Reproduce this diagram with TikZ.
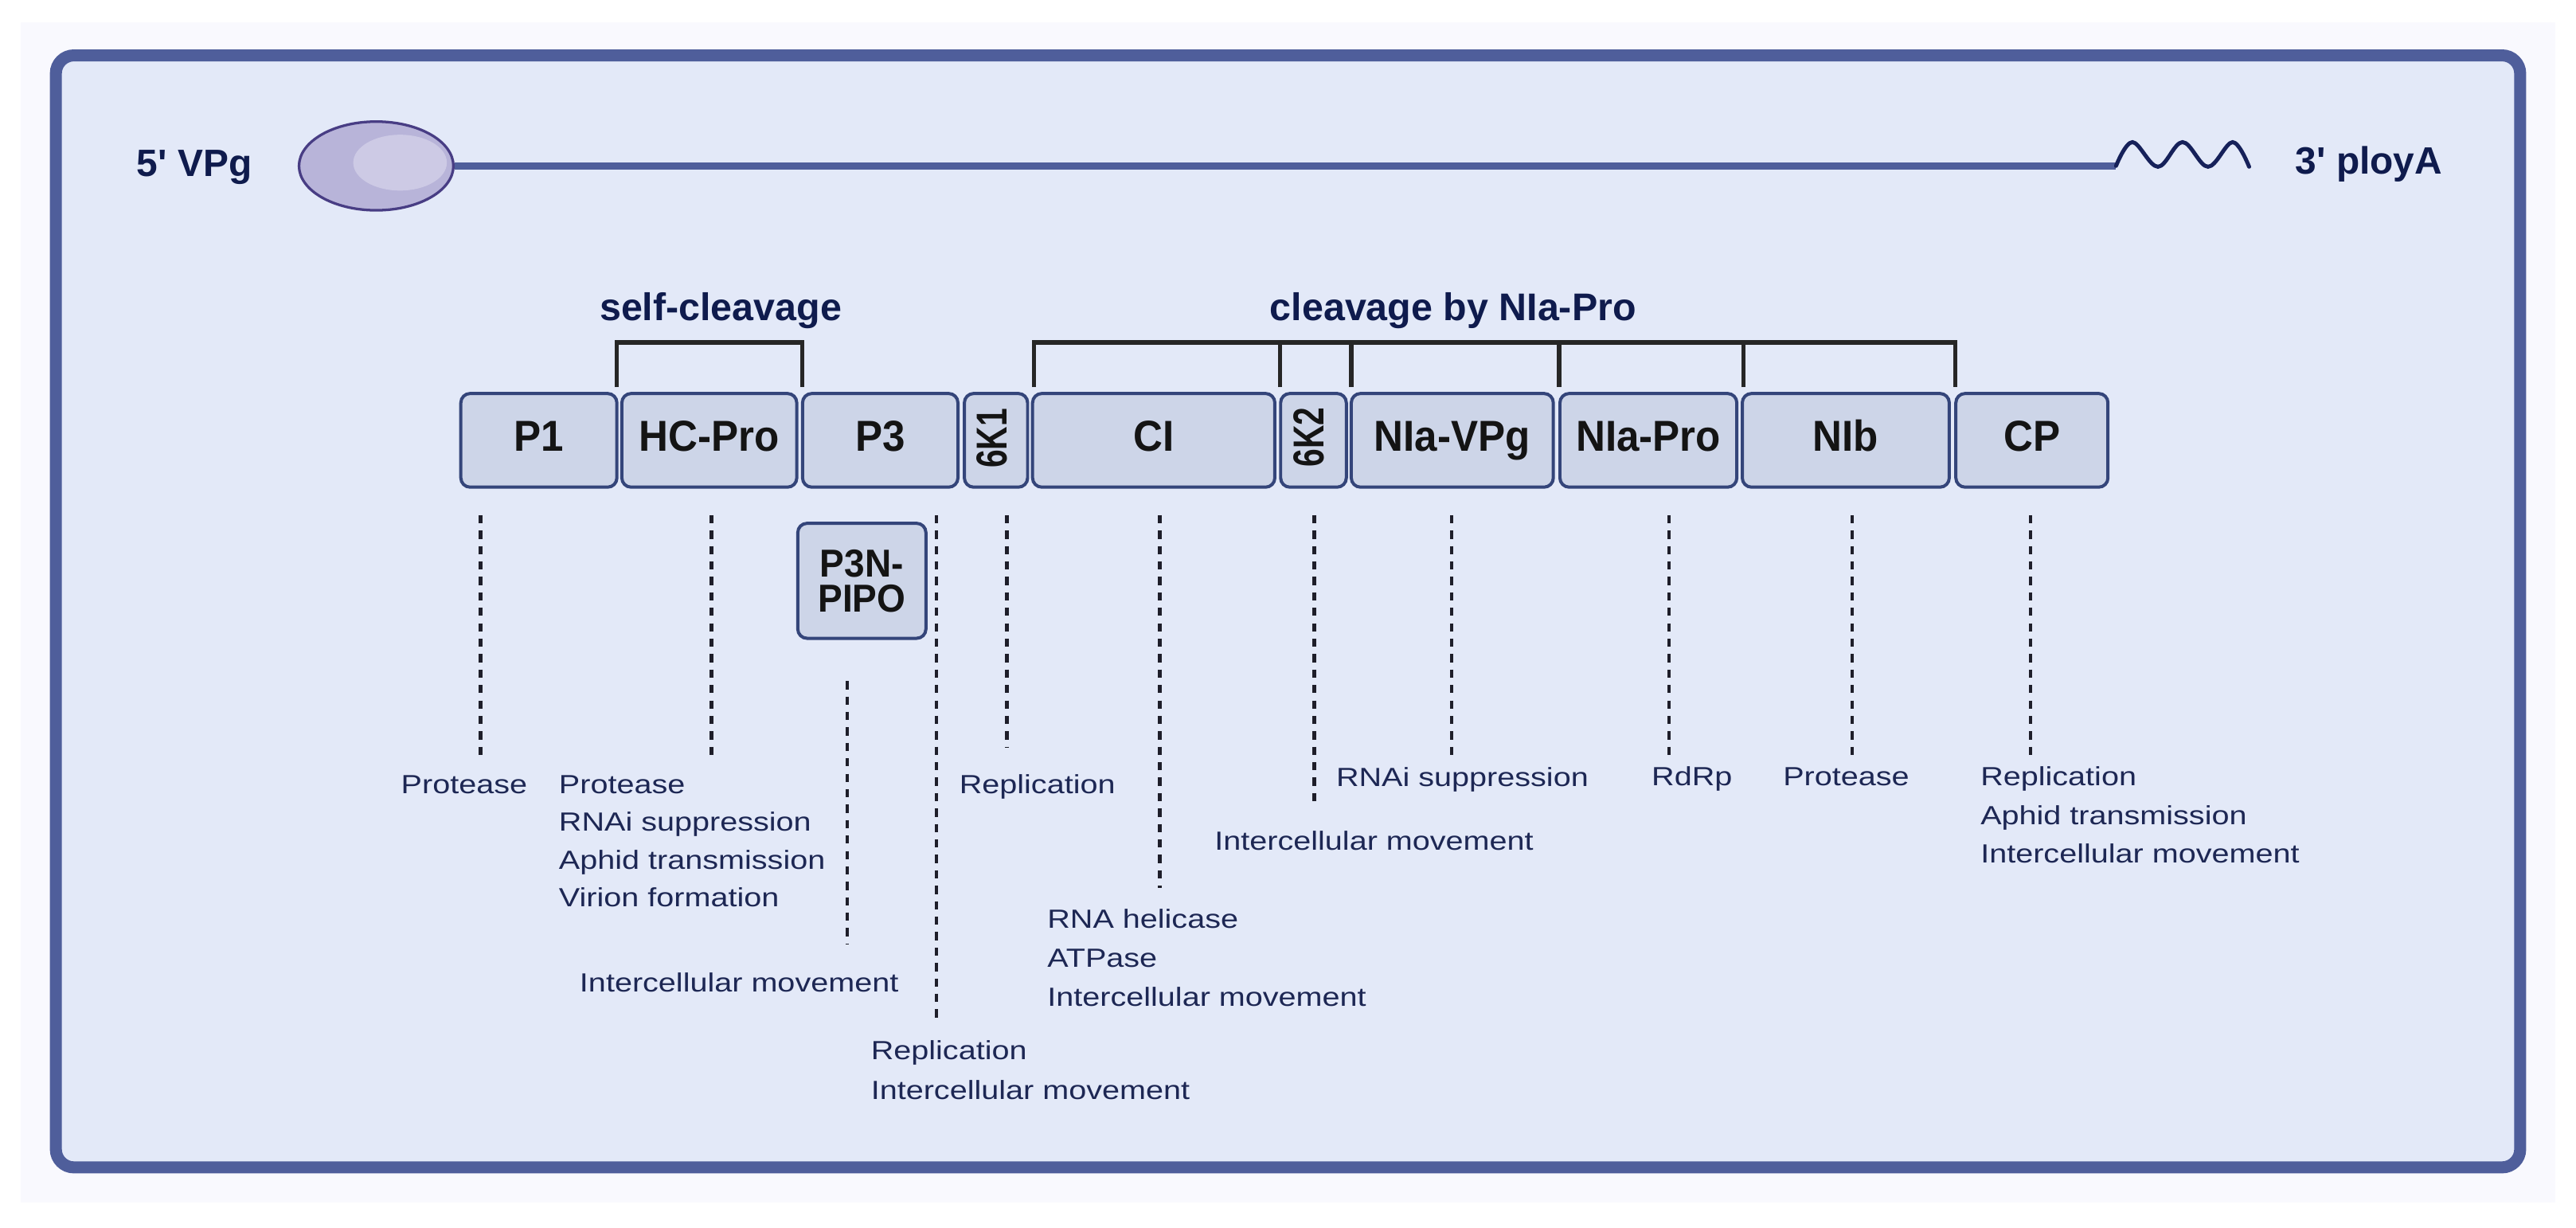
\documentclass[tikz,border=0pt]{standalone}
\usepackage{fontspec}
\setmainfont{Liberation Sans}[Ligatures=TeXOff]
\newfontfamily\lfont{Liberation Sans}[FakeStretch=1.2,Ligatures=TeXOff]
\newfontfamily\hfont{Liberation Sans}[FakeStretch=0.94,Ligatures=TeXOff]
\newfontfamily\kfont{Liberation Sans}[FakeStretch=0.75,Ligatures=TeXOff]
\newfontfamily\tfont{Liberation Sans}[Ligatures=TeXOff]
\usetikzlibrary{shapes.geometric}
\definecolor{pale}{HTML}{F9F9FE}
\definecolor{framefill}{HTML}{E3E9F8}
\definecolor{frameedge}{HTML}{4F5E9B}
\definecolor{vpgfill}{HTML}{B8B4D9}
\definecolor{vpghi}{HTML}{CDCAE5}
\definecolor{vpgedge}{HTML}{483D84}
\definecolor{wavec}{HTML}{16215A}
\definecolor{boxfill}{HTML}{CDD5E8}
\definecolor{boxedge}{HTML}{34457A}
\definecolor{navy}{HTML}{0F1B4D}
\definecolor{txt}{HTML}{1D2754}
\definecolor{brk}{HTML}{262626}
\definecolor{dashc}{HTML}{1E1E2A}
\begin{document}
\begin{tikzpicture}[x=0.02cm,y=-0.02cm,
  boxbase/.style={draw=boxedge, fill=boxfill, line width=1.1pt, rounded corners=3.2pt,
    minimum height=1.14cm, inner sep=0pt, text=black!92},
  box/.style={boxbase, font=\hfont\bfseries\fontsize{15}{18}\selectfont,
    text height=10.7pt, text depth=3.1pt},
  klab/.style={rotate=90, inner sep=0pt, text=black!92,
    font=\kfont\bfseries\fontsize{15}{18}\selectfont, text height=10.7pt, text depth=0pt},
  endlab/.style={anchor=base west, inner sep=0pt, text=navy,
    font=\tfont\bfseries\fontsize{13.2}{16}\selectfont},
  toplab/.style={anchor=base, inner sep=0pt, text=navy,
    font=\tfont\bfseries\fontsize{13.35}{16}\selectfont},
  fn/.style={anchor=base west, inner sep=0pt, text=txt,
    font=\lfont\fontsize{9.1}{11}\selectfont},
  bracket/.style={draw=brk, line width=1.5pt, line join=miter},
  dashline/.style={draw=dashc, line width=1.25pt, dash pattern=on 2.85pt off 2.5pt},
]
\useasboundingbox (0,0) rectangle (1568,747);
\fill[white] (0,0) rectangle (1568,747);
\fill[pale] (12.8,13.7) rectangle (1555.2,732);
\draw[draw=frameedge, fill=framefill, line width=4.15pt, rounded corners=0.22cm]
  (34,33.7) rectangle (1534,710.5);

% genome
\node[ellipse, fill=vpgfill, minimum width=1.88cm, minimum height=1.08cm, inner sep=0pt] (vpg) at (229,101) {};
\node[ellipse, fill=vpghi, minimum width=1.14cm, minimum height=0.68cm, inner sep=0pt] (vpghi) at (243.5,99) {};
\node[ellipse, draw=vpgedge, line width=0.9pt, minimum width=1.88cm, minimum height=1.08cm, inner sep=0pt] (vpgrim) at (229,101) {};
\coordinate (polyA) at (1288,101);
\draw[frameedge, line width=2.56pt] (vpgrim.east) -- (polyA);
\draw[wavec, line width=1.37pt, line cap=round] plot[smooth, tension=0.6] coordinates
  {(1288,101) (1298,86.5) (1313.5,101.5) (1328.5,86.5) (1344,101.5) (1359,86.5) (1369,101.5)};
\node[endlab] (five) at (83,107.4) {5' VPg};
\node[endlab] (three) at (1397,106) {3' ployA};

% brackets
\node[toplab] (selfc) at (438.7,195) {self-cleavage};
\node[toplab] (nia) at (884.5,195) {cleavage by NIa-Pro};
\coordinate (s1) at (375.3,235.6);
\coordinate (s2) at (488.4,235.6);
\coordinate (stop) at (430,208.4);
\draw[bracket] (s1) |- (stop) -| (s2);
\coordinate (c1) at (629.4,235.6);
\coordinate (c2) at (779.2,235.6);
\coordinate (c3) at (822.6,235.6);
\coordinate (c4) at (949.1,235.6);
\coordinate (c5) at (1061.1,235.6);
\coordinate (c6) at (1190.2,235.6);
\coordinate (ctop) at (900,208.4);
\draw[bracket] (c1) |- (ctop) -| (c6);
\foreach \c in {c2,c3,c4,c5} \draw[bracket] (\c) -- (\c |- ctop);

% boxes
\node[box, minimum width=1.90cm]  (P1)   at (328,268)     {P1};
\node[box, minimum width=2.13cm]  (HC)   at (431.75,268)  {HC-Pro};
\node[box, minimum width=1.892cm] (P3)   at (535.8,268)   {P3};
\node[box, minimum width=0.77cm]  (K1)   at (606.25,268)  {};
\node[klab] (K1t) at (603.5,266.8) {6K1};
\node[box, minimum width=2.95cm]  (CI)   at (702.25,268)  {CI};
\node[box, minimum width=0.80cm]  (K2)   at (799.5,268)   {};
\node[klab] (K2t) at (796.5,266) {6K2};
\node[box, minimum width=2.46cm]  (VPg)  at (884,268)     {NIa-VPg};
\node[box, minimum width=2.154cm] (Pro)  at (1003.35,268) {NIa-Pro};
\node[box, minimum width=2.52cm]  (NIb)  at (1123.5,268)  {NIb};
\node[box, minimum width=1.852cm] (CP)   at (1236.8,268)  {CP};
\node[boxbase, minimum width=1.56cm, minimum height=1.40cm, align=center,
  font=\hfont\bfseries\fontsize{13.5}{12.2}\selectfont] (PIPO) at (524.6,353.5) {P3N-\\PIPO};

% dashed leaders
\coordinate (d1a) at (292.5,313.5);  \coordinate (d1b) at (292.5,461.6);
\coordinate (d2a) at (433,313.5);    \coordinate (d2b) at (433,461.6);
\coordinate (d3a) at (515.6,414.5);  \coordinate (d3b) at (515.6,575);
\coordinate (d4a) at (570,313.5);    \coordinate (d4b) at (570,622);
\coordinate (d5a) at (613,313.5);    \coordinate (d5b) at (613,455);
\coordinate (d6a) at (706,313.5);    \coordinate (d6b) at (706,540.5);
\coordinate (d7a) at (800,313.5);    \coordinate (d7b) at (800,490);
\coordinate (d8a) at (883.7,313.5);  \coordinate (d8b) at (883.7,462);
\coordinate (d9a) at (1016,313.5);   \coordinate (d9b) at (1016,462);
\coordinate (d10a) at (1127.5,313.5);\coordinate (d10b) at (1127.5,462);
\coordinate (d11a) at (1236,313.5);  \coordinate (d11b) at (1236,462);
\foreach \i in {1,...,11} \draw[dashline] (d\i a) -- (d\i b);

% function labels
\node[fn] (fP1) at (243.8,483.1) {Protease};
\node[fn] (fHC1) at (339.9,483.1) {Protease};
\node[fn] (fHC2) at (339.9,506) {RNAi suppression};
\node[fn] (fHC3) at (339.9,529.2) {Aphid transmission};
\node[fn] (fHC4) at (339.9,551.8) {Virion formation};
\node[fn] (fPIPO) at (352.5,603.7) {Intercellular movement};
\node[fn] (fP31) at (529.8,645) {Replication};
\node[fn] (fP32) at (529.8,669) {Intercellular movement};
\node[fn] (fK1) at (583.6,483.1) {Replication};
\node[fn] (fCI1) at (637.2,565) {RNA helicase};
\node[fn] (fCI2) at (637.2,588.7) {ATPase};
\node[fn] (fCI3) at (637.2,612.4) {Intercellular movement};
\node[fn] (fK2) at (739,517.2) {Intercellular movement};
\node[fn] (fVPg) at (813,478.7) {RNAi suppression};
\node[fn] (fPro) at (1005,478.3) {RdRp};
\node[fn] (fNIb) at (1085,478.3) {Protease};
\node[fn] (fCP1) at (1205.2,478.3) {Replication};
\node[fn] (fCP2) at (1205.2,501.7) {Aphid transmission};
\node[fn] (fCP3) at (1205.2,525.1) {Intercellular movement};
\end{tikzpicture}
\end{document}
